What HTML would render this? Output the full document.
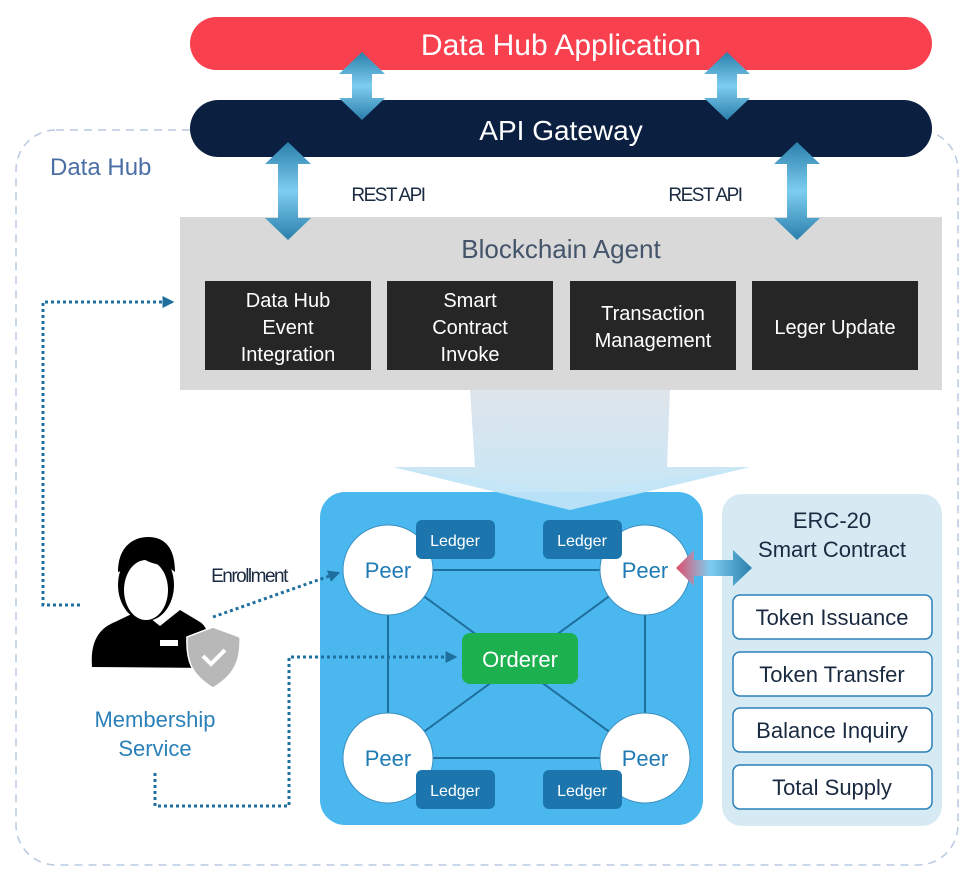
<!DOCTYPE html>
<html><head><meta charset="utf-8"><style>
html,body{margin:0;padding:0;background:#fff;width:980px;height:879px;overflow:hidden}
svg text{font-family:"Liberation Sans",sans-serif}
</style></head><body>
<svg width="980" height="879" viewBox="0 0 980 879" xmlns="http://www.w3.org/2000/svg">
<defs>
<linearGradient id="va" x1="0" y1="0" x2="0" y2="1"><stop offset="0" stop-color="#2a7fab"/><stop offset="0.5" stop-color="#7dcdf0"/><stop offset="1" stop-color="#2a7fab"/></linearGradient>
<linearGradient id="ha" x1="0" y1="0" x2="1" y2="0"><stop offset="0" stop-color="#e0506a"/><stop offset="0.45" stop-color="#7dcdf0"/><stop offset="1" stop-color="#2a7fab"/></linearGradient>
<linearGradient id="fn" x1="0" y1="0" x2="0" y2="1"><stop offset="0" stop-color="#dfe5eb"/><stop offset="1" stop-color="#c4e6f7"/></linearGradient>
<marker id="ar" viewBox="0 0 10 10" refX="8" refY="5" markerWidth="4" markerHeight="4" orient="auto"><path d="M0,0 L10,5 L0,10 z" fill="#1f6f9e"/></marker>
</defs>
<rect x="16" y="130" width="942" height="735" rx="40" fill="none" stroke="#b9c9e2" stroke-width="1.5" stroke-dasharray="8,6"/>
<text x="50" y="175" font-size="24" fill="#4a6fa5">Data Hub</text>

<rect x="190" y="17" width="742" height="53" rx="26.5" fill="#f9404f"/>
<text x="561" y="55" font-size="30" fill="#fff" text-anchor="middle">Data Hub Application</text>
<rect x="190" y="100" width="742" height="57" rx="28.5" fill="#0b1f40"/>
<text x="561" y="140" font-size="28" fill="#fff" text-anchor="middle">API Gateway</text>

<text x="388" y="201" font-size="19" fill="#1a2a40" text-anchor="middle" letter-spacing="-1.5">REST API</text>
<text x="705" y="201" font-size="19" fill="#1a2a40" text-anchor="middle" letter-spacing="-1.5">REST API</text>

<rect x="180" y="217" width="762" height="173" fill="#d9d9d9"/>
<g fill="url(#va)">
<path d="M362,52 L385,74 L372,74 L372,98 L385,98 L362,120 L339,98 L352,98 L352,74 L339,74 Z"/>
<path d="M727,52 L750,74 L737,74 L737,98 L750,98 L727,120 L704,98 L717,98 L717,74 L704,74 Z"/>
<path d="M288,142 L311,164 L298,164 L298,218 L311,218 L288,240 L265,218 L278,218 L278,164 L265,164 Z"/>
<path d="M797,142 L820,164 L807,164 L807,218 L820,218 L797,240 L774,218 L787,218 L787,164 L774,164 Z"/>
</g>
<text x="561" y="258" font-size="26" fill="#44546a" text-anchor="middle">Blockchain Agent</text>
<g fill="#262626">
<rect x="205" y="281" width="166" height="89"/><rect x="387" y="281" width="166" height="89"/>
<rect x="570" y="281" width="166" height="89"/><rect x="752" y="281" width="166" height="89"/>
</g>
<g fill="#fff" font-size="20" text-anchor="middle">
<text x="288" y="307">Data Hub</text><text x="288" y="334">Event</text><text x="288" y="361">Integration</text>
<text x="470" y="307">Smart</text><text x="470" y="334">Contract</text><text x="470" y="361">Invoke</text>
<text x="653" y="320">Transaction</text><text x="653" y="347">Management</text>
<text x="835" y="334">Leger Update</text>
</g>

<path d="M470,390 L670,390 L667,467 L750,467 L570,510 L393,467 L475,467 Z" fill="url(#fn)"/>

<rect x="320" y="492" width="383" height="333" rx="25" fill="#4ab8ee"/>
<path d="M570,492 L750,467 L570,510 L393,467 Z" fill="#c4e6f7" opacity="0.9"/>
<g stroke="#1f6f9e" stroke-width="2" fill="none">
<line x1="388" y1="570" x2="645" y2="570"/><line x1="388" y1="758" x2="645" y2="758"/>
<line x1="388" y1="570" x2="388" y2="758"/><line x1="645" y1="570" x2="645" y2="758"/>
<line x1="388" y1="570" x2="645" y2="758"/><line x1="645" y1="570" x2="388" y2="758"/>
</g>
<g fill="#fff" stroke="#3a8fc0" stroke-width="1">
<circle cx="388" cy="570" r="45"/><circle cx="645" cy="570" r="45"/>
<circle cx="388" cy="758" r="45"/><circle cx="645" cy="758" r="45"/>
</g>
<g fill="#1f7bb5" font-size="22" text-anchor="middle">
<text x="388" y="578">Peer</text><text x="645" y="578">Peer</text>
<text x="388" y="766">Peer</text><text x="645" y="766">Peer</text>
</g>
<rect x="462" y="633" width="116" height="51" rx="8" fill="#1db04f"/>
<text x="520" y="667" font-size="22" fill="#fff" text-anchor="middle">Orderer</text>
<g fill="#1c76ad">
<rect x="416" y="520" width="79" height="39" rx="6"/><rect x="543" y="520" width="79" height="39" rx="6"/>
<rect x="416" y="770" width="79" height="39" rx="6"/><rect x="543" y="770" width="79" height="39" rx="6"/>
</g>
<g fill="#fff" font-size="16" text-anchor="middle">
<text x="455" y="546">Ledger</text><text x="582" y="546">Ledger</text>
<text x="455" y="796">Ledger</text><text x="582" y="796">Ledger</text>
</g>

<rect x="722" y="494" width="220" height="332" rx="20" fill="#d6eaf3"/>
<text x="832" y="528" font-size="22" fill="#1a2a40" text-anchor="middle">ERC-20</text>
<text x="832" y="557" font-size="22" fill="#1a2a40" text-anchor="middle">Smart Contract</text>
<g fill="#fff" stroke="#2a80b9" stroke-width="1.5">
<rect x="733" y="595" width="199" height="44" rx="7"/><rect x="733" y="652" width="199" height="44" rx="7"/>
<rect x="733" y="708" width="199" height="44" rx="7"/><rect x="733" y="765" width="199" height="44" rx="7"/>
</g>
<g fill="#1a2a40" font-size="22" text-anchor="middle">
<text x="832" y="625">Token Issuance</text><text x="832" y="682">Token Transfer</text>
<text x="832" y="738">Balance Inquiry</text><text x="832" y="795">Total Supply</text>
</g>
<path d="M676,568 L694,550 L694,560 L733,560 L733,550 L752,568 L733,586 L733,576 L694,576 L694,586 Z" fill="url(#ha)"/>

<g>
<path d="M92,667 C90,640 100,628 115,622 L140,610 L160,626 L180,610 L200,622 C210,628 212,650 212,668 Z" fill="#000"/>
<ellipse cx="146" cy="585" rx="28" ry="36" fill="#000"/>
<ellipse cx="146" cy="590" rx="22" ry="30" fill="#fff"/>
<path d="M118,572 C118,545 135,537 148,537 C165,537 175,548 175,572 C165,563 150,566 140,556 C135,566 125,570 118,572 Z" fill="#000"/>
<rect x="160" y="640" width="18" height="6" fill="#fff"/>
<path d="M213,627 L240,637 C241,660 235,675 213,688 C191,675 186,660 187,637 Z" fill="#b8b8b8" stroke="#fff" stroke-width="1.5"/>
<path d="M203,656 L211,664 L225,650" fill="none" stroke="#fff" stroke-width="4"/>
</g>
<text x="155" y="727" font-size="22" fill="#2a80b9" text-anchor="middle">Membership</text>
<text x="155" y="756" font-size="22" fill="#2a80b9" text-anchor="middle">Service</text>
<text x="249" y="582" font-size="19" fill="#1a2a40" text-anchor="middle" letter-spacing="-1.5">Enrollment</text>

<g fill="none" stroke="#1f6f9e" stroke-width="3" stroke-dasharray="3,3">
<polyline points="80,605 43,605 43,302 172,302" marker-end="url(#ar)"/>
<line x1="213" y1="617" x2="338" y2="573" marker-end="url(#ar)"/>
<polyline points="155,773 155,806 289,806 289,657 455,657" marker-end="url(#ar)"/>
</g>
</svg>
</body></html>
